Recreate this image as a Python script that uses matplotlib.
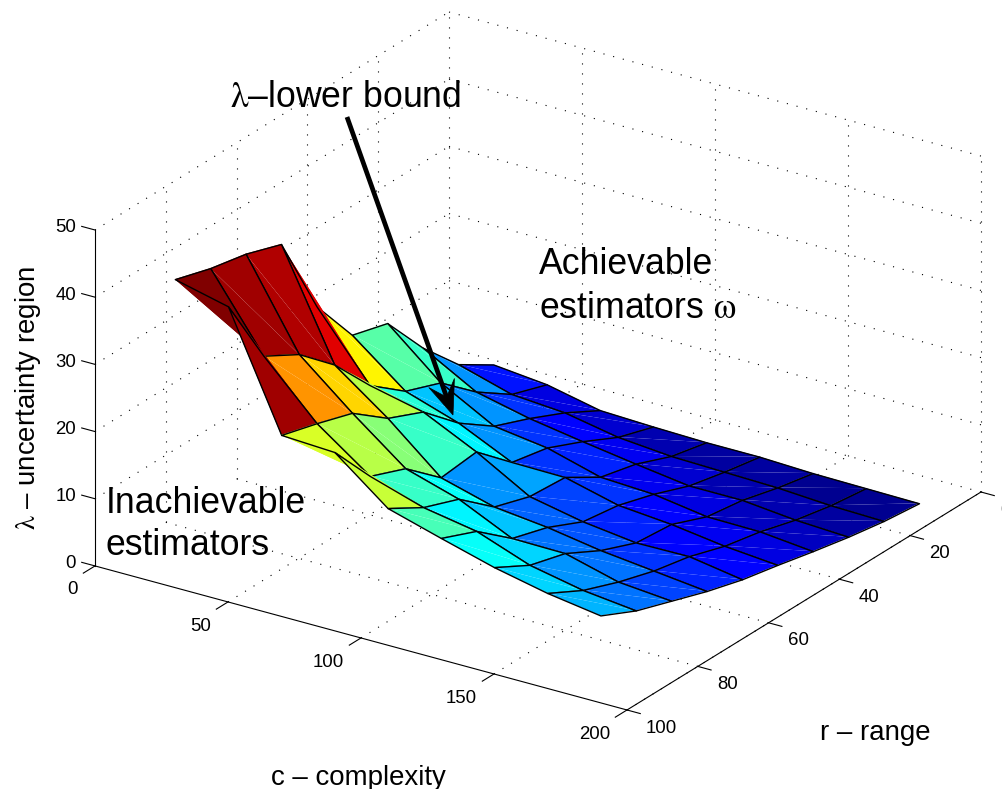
"""Lower bound surface for achievable estimators, drawn on MATLAB style 3D axes."""

import matplotlib

matplotlib.use("Agg")

import matplotlib.pyplot as plt
import numpy as np
from matplotlib.colors import LinearSegmentedColormap, Normalize
from matplotlib.lines import Line2D
from matplotlib.patches import Polygon
from matplotlib.transforms import IdentityTransform
from mpl_toolkits.mplot3d import proj3d
from mpl_toolkits.mplot3d.art3d import Poly3DCollection

plt.rcParams["font.family"] = ["Liberation Sans"]
plt.rcParams["mathtext.fontset"] = "stix"
plt.rcParams["mathtext.default"] = "rm"

FIG_W = 1003
FIG_H = 789

C_VALUES = [30, 50, 70, 90, 110, 130, 150, 170, 190]
R_VALUES = [100, 90, 80, 70, 60, 50, 40, 30, 20, 10]

Z_R100 = [45.9, 44.0, 27.0, 26.6, 20.4, 18.1, 15.9, 14.2, 13.0]
Z_R90 = [44.3, 33.4, 25.5, 19.8, 17.3, 15.9, 13.0, 11.4, 10.5]
Z_R80 = [43.2, 30.4, 23.8, 17.7, 15.3, 11.6, 11.5, 9.4, 8.7]
Z_R70 = [41.4, 25.6, 19.8, 13.1, 10.9, 10.0, 8.7, 7.8, 6.9]
Z_R60 = [28.9, 19.3, 17.5, 13.7, 9.2, 7.6, 6.6, 6.7, 5.4]
Z_R50 = [21.4, 15.2, 12.6, 8.9, 8.8, 6.8, 6.1, 5.0, 4.3]
Z_R40 = [19.9, 13.2, 8.9, 7.8, 5.6, 5.2, 4.0, 3.9, 3.1]
Z_R30 = [13.0, 8.6, 6.8, 5.5, 4.3, 3.2, 3.2, 2.4, 2.0]
Z_R20 = [7.3, 5.0, 4.4, 2.9, 2.2, 2.0, 1.8, 1.3, 1.1]
Z_R10 = [4.0, 3.2, 1.5, 1.2, 1.0, 1.0, 0.7, 0.6, 0.5]

C_TICKS = [0, 50, 100, 150, 200]
R_TICKS = [0, 20, 40, 60, 80, 100]
Z_TICKS = [0, 10, 20, 30, 40, 50]

# pixel targets for the box, measured on the reference (y from the top)
ORIGIN_PX = (95, 566)
C_END_PX = (627, 710)
CENTER_PX = (538, 361)
AXES_PX = 1500

TICK_PT = 13.4
LABEL_PT = 19.9
NOTE_PT = 25.7
CLEAR = (0, 0, 0, 0)

MATLAB_JET = LinearSegmentedColormap(
    "matlab_jet",
    {
        "red": [(0, 0, 0), (0.375, 0, 0), (0.625, 1, 1), (0.875, 1, 1), (1, 0.5, 0.5)],
        "green": [(0, 0, 0), (0.125, 0, 0), (0.375, 1, 1), (0.625, 1, 1), (0.875, 0, 0), (1, 0, 0)],
        "blue": [(0, 0.5, 0.5), (0.125, 1, 1), (0.375, 1, 1), (0.625, 0, 0), (1, 0, 0)],
    },
    N=64,
)


def to_px(ax, c, r, z):
    xs, ys, _ = proj3d.proj_transform(c, r, z, ax.get_proj())
    return ax.transData.transform((xs, ys))


def fit_box(ax):
    """Scale and shift the axes so the 3D box lands on the reference pixels."""
    ax.apply_aspect()
    p0 = to_px(ax, 0, 100, 0)
    p1 = to_px(ax, 200, 100, 0)
    target = np.hypot(C_END_PX[0] - ORIGIN_PX[0], C_END_PX[1] - ORIGIN_PX[1])
    ax.set_box_aspect((638.3, 640.5, 368.0), zoom=target / np.hypot(*(p1 - p0)))

    ax.apply_aspect()
    center = to_px(ax, 100, 50, 25)
    dx = CENTER_PX[0] - center[0]
    dy = (FIG_H - CENTER_PX[1]) - center[1]
    pos = ax.get_position()
    ax.set_position([pos.x0 + dx / FIG_W, pos.y0 + dy / FIG_H, pos.width, pos.height])
    ax.apply_aspect()


def draw_grid(ax):
    dots = {"color": "black", "lw": 0.8, "ls": (0, (1, 8)), "zorder": 1}
    for c in C_TICKS[1:]:
        ax.plot([c, c], [100, 0], [0, 0], **dots)
        ax.plot([c, c], [0, 0], [0, 50], **dots)
    for r in R_TICKS[:-1]:
        ax.plot([0, 200], [r, r], [0, 0], **dots)
        ax.plot([0, 0], [r, r], [0, 50], **dots)
    for z in Z_TICKS[1:]:
        ax.plot([0, 0], [100, 0], [z, z], **dots)
        ax.plot([0, 200], [0, 0], [z, z], **dots)


def draw_surface(ax, z):
    """Facets split in two triangles like the original renderer, painted back to front."""
    c_grid, r_grid = np.meshgrid(C_VALUES, R_VALUES)
    norm = Normalize(vmin=z.min(), vmax=z.max())
    colors = MATLAB_JET(norm(z))
    verts = np.dstack([c_grid, r_grid, z])

    facets = []
    for i in range(z.shape[0] - 1):
        for j in range(z.shape[1] - 1):
            a, b, c, d = verts[i, j], verts[i, j + 1], verts[i + 1, j + 1], verts[i + 1, j]
            quad = np.array([a, b, c, d])
            _, _, depth = proj3d.proj_transform(quad[:, 0], quad[:, 1], quad[:, 2], ax.get_proj())
            facets.append((np.mean(depth), quad, colors[i, j]))
    facets.sort(key=lambda f: f[0], reverse=True)

    for rank, (_, quad, color) in enumerate(facets):
        a, b, c, d = quad
        fill = Poly3DCollection([[a, b, c], [a, c, d]], facecolors=[color], edgecolors=[CLEAR],
                                linewidths=0, zorder=2 + rank * 0.01)
        outline = Poly3DCollection([quad], facecolors=[CLEAR], edgecolors="black",
                                   linewidths=1.0, zorder=2 + rank * 0.01 + 0.005)
        ax.add_collection3d(fill)
        ax.add_collection3d(outline)


def tick_label(fig, ax, c, r, z, text, ha, dy=0):
    x, y = to_px(ax, c, r, z)
    fig.text(x / FIG_W, (y + dy) / FIG_H, text, ha=ha, va="center", fontsize=TICK_PT)


def draw_axes_lines(fig, ax):
    line = {"color": "black", "lw": 0.8, "zorder": 4}
    ax.plot([0, 200], [100, 100], [0, 0], **line)
    ax.plot([200, 200], [100, 0], [0, 0], **line)
    ax.plot([0, 0], [100, 100], [0, 50], **line)

    for c in C_TICKS:
        ax.plot([c, c], [100, 103.3], [0, 0], **line)
        tick_label(fig, ax, c + 4.9, 108.5, 0, str(c), "right", dy=-2)
    for r in R_TICKS:
        ax.plot([200, 205], [r, r], [0, 0], **line)
        tick_label(fig, ax, 212.2, r + 3.8, 0, str(r), "left", dy=-1)
    for z in Z_TICKS:
        ax.plot([0, -5], [100, 100], [z, z], **line)
        tick_label(fig, ax, -7.1, 100, z, str(z), "right", dy=-3)


def px_text(fig, x, y, s, **kwargs):
    fig.text(x / FIG_W, 1 - y / FIG_H, s, **kwargs)


def draw_arrow(fig, tail, tip, head_len=34, head_half=13.6, notch=19):
    tail = np.array([tail[0], FIG_H - tail[1]], dtype=float)
    tip = np.array([tip[0], FIG_H - tip[1]], dtype=float)
    d = (tip - tail) / np.hypot(*(tip - tail))
    n = np.array([-d[1], d[0]])
    neck = tip - notch * d
    fig.add_artist(
        Line2D([tail[0], neck[0]], [tail[1], neck[1]], color="black", lw=3.4,
               solid_capstyle="butt", transform=IdentityTransform())
    )
    head = [tip, tip - head_len * d + head_half * n, neck, tip - head_len * d - head_half * n]
    fig.add_artist(Polygon(head, closed=True, facecolor="black", edgecolor="black", lw=0.5,
                           transform=IdentityTransform()))


def main():
    fig = plt.figure(figsize=(FIG_W / 100, FIG_H / 100), dpi=100)
    left = (FIG_W - AXES_PX) / 2 / FIG_W
    bottom = (FIG_H - AXES_PX) / 2 / FIG_H
    ax = fig.add_axes(
        [left, bottom, AXES_PX / FIG_W, AXES_PX / FIG_H],
        projection="3d",
        proj_type="ortho",
        computed_zorder=False,
    )
    ax.set_xlim(0, 200)
    ax.set_ylim(100, 0)
    ax.set_zlim(0, 50)
    ax.view_init(elev=24.1, azim=-56.45)
    ax.set_box_aspect((638.3, 640.5, 368.0))
    ax.set_axis_off()
    fit_box(ax)

    draw_grid(ax)

    z = np.array([Z_R100, Z_R90, Z_R80, Z_R70, Z_R60, Z_R50, Z_R40, Z_R30, Z_R20, Z_R10])
    draw_surface(ax, z)

    draw_axes_lines(fig, ax)

    px_text(fig, 358, 778, "c – complexity", ha="center", va="center", fontsize=LABEL_PT)
    px_text(fig, 875, 733, "r – range", ha="center", va="center", fontsize=LABEL_PT)
    px_text(fig, 28, 398, "$λ$ – uncertainty region", ha="center", va="center",
            rotation=90, fontsize=LABEL_PT)

    px_text(fig, 230, 107, "$λ$–lower bound", va="baseline", fontsize=NOTE_PT)
    px_text(fig, 539, 274, "Achievable", va="baseline", fontsize=NOTE_PT)
    px_text(fig, 539, 318, "estimators $ω$", va="baseline", fontsize=NOTE_PT)
    px_text(fig, 106, 513, "Inachievable", va="baseline", fontsize=NOTE_PT)
    px_text(fig, 106, 555, "estimators", va="baseline", fontsize=NOTE_PT)

    draw_arrow(fig, (347, 117), (453, 415))

    fig.savefig("out.png", dpi=100)


if __name__ == "__main__":
    main()
